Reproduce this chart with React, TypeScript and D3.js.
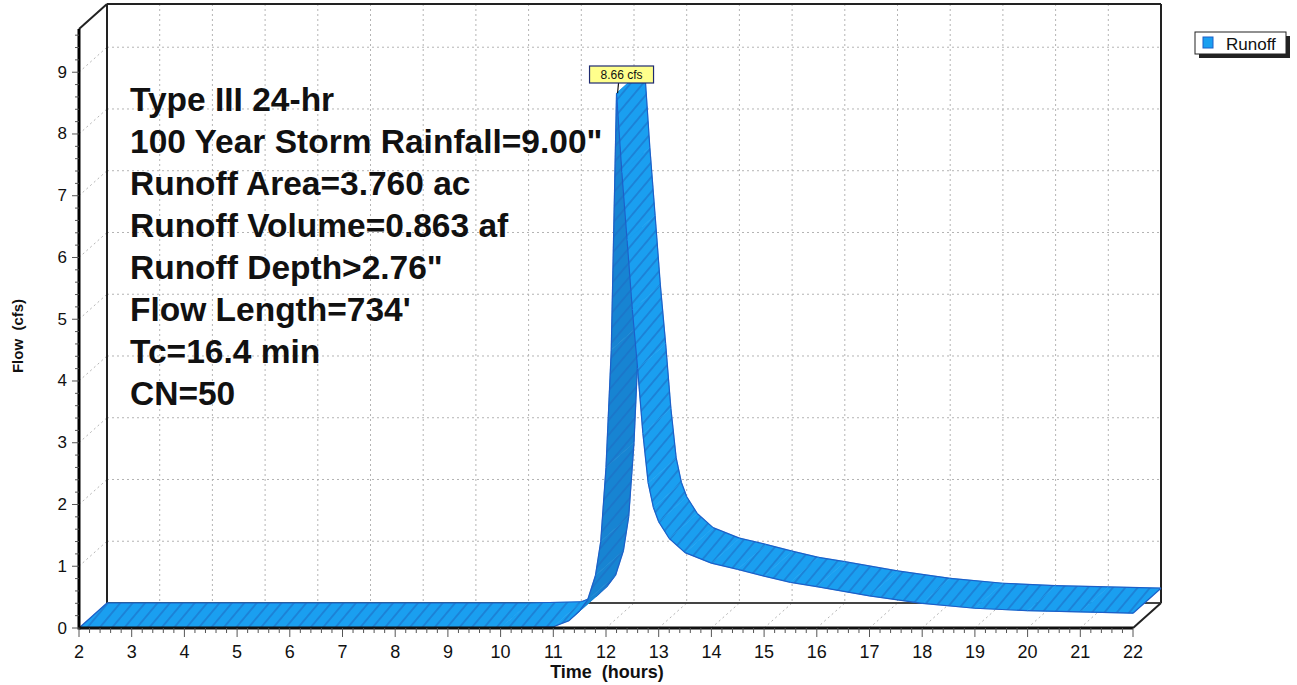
import React from 'react';
import * as d3 from 'd3';

// Runoff hydrograph (time in hours, flow in cfs)
const hours = [2, 10, 11, 11.3, 11.5, 11.65, 11.8, 11.9, 12.0, 12.1, 12.2, 12.3, 12.4, 12.5, 12.6, 12.7, 12.8, 12.9, 13.0, 13.2, 13.5, 14, 14.5, 15, 15.5, 16, 17, 18, 19, 20, 21, 22];
const flowCfs = [0, 0, 0.02, 0.12, 0.28, 0.45, 0.85, 1.4, 2.6, 4.5, 8.66, 7.38, 6.28, 5.15, 4.2, 3.15, 2.35, 1.95, 1.72, 1.45, 1.22, 1.05, 0.95, 0.84, 0.74, 0.67, 0.52, 0.4, 0.32, 0.28, 0.26, 0.24];

const xTickLabels = [2, 3, 4, 5, 6, 7, 8, 9, 10, 11, 12, 13, 14, 15, 16, 17, 18, 19, 20, 21, 22];
const yTickLabels = [0, 1, 2, 3, 4, 5, 6, 7, 8, 9];

const infoLines = [
  'Type III 24-hr',
  '100 Year Storm Rainfall=9.00"',
  'Runoff Area=3.760 ac',
  'Runoff Volume=0.863 af',
  'Runoff Depth>2.76"',
  "Flow Length=734'",
  'Tc=16.4 min',
  'CN=50',
];

const seriesName = 'Runoff';
const peakUnit = 'cfs';

const W = 1297;
const H = 685;
const FONT = "'Liberation Sans', Arial, Helvetica, sans-serif";

// oblique depth offset of the 3D box
const DX = 28;
const DY = -25;

const LIGHT = '#1a9ff0';
const DARK = '#1784d2';
const EDGE = '#1d5fc8';
const HATCH = '#1c6cc4';
const GRID = '#b4b4b4';

export default function App() {
  const x = d3.scaleLinear().domain([2, 22]).range([79, 1133]);
  const y = d3.scaleLinear().domain([0, 9.7]).range([628, 29]);

  const x0 = x(2);
  const x1 = x(22);
  const yb = y(0);
  const yt = y(9.7);
  const bx0 = x0 + DX;
  const bx1 = x1 + DX;
  const byb = yb + DY;
  const byt = yt + DY;

  const pts = hours.map((t, i) => [x(t), y(flowCfs[i])] as [number, number]);

  const quads = d3.range(pts.length - 1).map((i) => {
    const f0 = pts[i];
    const f1 = pts[i + 1];
    const b0: [number, number] = [f0[0] + DX, f0[1] + DY];
    const b1: [number, number] = [f1[0] + DX, f1[1] + DY];
    const cross = (f1[0] - f0[0]) * DY - (f1[1] - f0[1]) * DX;
    const d = `M${f0[0]},${f0[1]}L${f1[0]},${f1[1]}L${b1[0]},${b1[1]}L${b0[0]},${b0[1]}Z`;
    return { d, f0, f1, b0, b1, dark: cross > 0 };
  });

  const peakIdx = d3.maxIndex(flowCfs);
  const peakX = x(hours[peakIdx]);
  const peakY = y(flowCfs[peakIdx]);
  const peakText = `${flowCfs[peakIdx].toFixed(2)} ${peakUnit}`;

  const yMinor = d3.range(0, 9.7, 0.2);
  const xMinor = d3.range(2, 22.001, 0.2);

  return (
    <svg width={W} height={H} style={{ position: 'absolute', left: 0, top: 0, display: 'block', background: '#fff' }}>
      <defs>
        <pattern id="hatch" patternUnits="userSpaceOnUse" width={9.5} height={9.5} patternTransform="rotate(40)">
          <line x1={4.75} y1={0} x2={4.75} y2={9.5} stroke={HATCH} strokeWidth={1.1} />
        </pattern>
      </defs>

      {/* back wall grid */}
      {xTickLabels.slice(1, -1).map((t) => (
        <line key={`bv${t}`} x1={x(t) + DX} y1={byt} x2={x(t) + DX} y2={byb} stroke={GRID} strokeDasharray="2,3" />
      ))}
      {yTickLabels.slice(1).map((v) => (
        <line key={`bh${v}`} x1={bx0} y1={y(v) + DY} x2={bx1} y2={y(v) + DY} stroke={GRID} strokeDasharray="2,3" />
      ))}
      {/* side wall and floor grid */}
      {yTickLabels.slice(1).map((v) => (
        <line key={`sw${v}`} x1={x0} y1={y(v)} x2={bx0} y2={y(v) + DY} stroke={GRID} strokeDasharray="2,3" />
      ))}
      {xTickLabels.slice(1, -1).map((t) => (
        <line key={`fl${t}`} x1={x(t)} y1={yb} x2={x(t) + DX} y2={byb} stroke={GRID} strokeDasharray="2,3" />
      ))}

      {/* box frame */}
      <g stroke="#222" strokeWidth={2} fill="none">
        <line x1={bx0} y1={byt} x2={bx1} y2={byt} />
        <line x1={bx0} y1={byt} x2={bx0} y2={byb} />
        <line x1={bx1} y1={byt} x2={bx1} y2={byb} />
        <line x1={bx0} y1={byb} x2={bx1} y2={byb} stroke="#444" />
        <line x1={x0} y1={yt} x2={bx0} y2={byt} />
        <line x1={x1} y1={yb} x2={bx1} y2={byb} />
      </g>

      {/* ribbon */}
      <g>
        {quads.map((q, i) => (
          <g key={`q${i}`}>
            <path d={q.d} fill={q.dark ? DARK : LIGHT} stroke={q.dark ? DARK : LIGHT} strokeWidth={0.6} strokeLinejoin="round" />
            <path d={q.d} fill="url(#hatch)" />
            <line x1={q.f0[0]} y1={q.f0[1]} x2={q.f1[0]} y2={q.f1[1]} stroke={EDGE} strokeWidth={1.2} />
            <line x1={q.b0[0]} y1={q.b0[1]} x2={q.b1[0]} y2={q.b1[1]} stroke={EDGE} strokeWidth={1.2} />
          </g>
        ))}
        <line x1={pts[0][0]} y1={pts[0][1]} x2={pts[0][0] + DX} y2={pts[0][1] + DY} stroke={EDGE} strokeWidth={1.2} />
        <line
          x1={pts[pts.length - 1][0]}
          y1={pts[pts.length - 1][1]}
          x2={pts[pts.length - 1][0] + DX}
          y2={pts[pts.length - 1][1] + DY}
          stroke={EDGE}
          strokeWidth={1.2}
        />
      </g>

      {/* front axes */}
      <line x1={x0} y1={yt} x2={x0} y2={yb + 1.5} stroke="#000" strokeWidth={3} />
      <line x1={x0} y1={yb} x2={x1} y2={yb} stroke="#111" strokeWidth={3} />

      {/* y ticks */}
      {yMinor.map((v, i) => (
        <line key={`ym${i}`} x1={x0 - (i % 5 === 0 ? 7 : 4)} y1={y(v)} x2={x0} y2={y(v)} stroke="#555" strokeWidth={1} />
      ))}
      {yTickLabels.map((v) => (
        <text key={`yl${v}`} x={x0 - 12} y={y(v)} textAnchor="end" dominantBaseline="central" fontFamily={FONT} fontSize={17} fill="#111">
          {v}
        </text>
      ))}

      {/* x ticks */}
      {xMinor.map((t, i) => (
        <line key={`xm${i}`} x1={x(t)} y1={yb} x2={x(t)} y2={yb + (i % 5 === 0 ? 9 : 5)} stroke="#555" strokeWidth={1} />
      ))}
      {xTickLabels.map((t) => (
        <text key={`xl${t}`} x={x(t)} y={658} textAnchor="middle" fontFamily={FONT} fontSize={18} fill="#111">
          {t}
        </text>
      ))}

      {/* axis titles */}
      <text x={(x0 + x1) / 2 + 1} y={678} textAnchor="middle" fontFamily={FONT} fontSize={18} fontWeight="bold" fill="#111" style={{ whiteSpace: 'pre' }}>
        {'Time  (hours)'}
      </text>
      <text
        transform="translate(23,336) rotate(-90)"
        textAnchor="middle"
        fontFamily={FONT}
        fontSize={15}
        fontWeight="bold"
        fill="#111"
        style={{ whiteSpace: 'pre' }}
      >
        {'Flow  (cfs)'}
      </text>

      {/* storm / catchment summary */}
      {infoLines.map((s, i) => (
        <text key={`info${i}`} x={130} y={111 + i * 42} fontFamily={FONT} fontSize={33.5} fontWeight="bold" fill="#111">
          {s}
        </text>
      ))}

      {/* peak label */}
      <line x1={peakX + 2} y1={83} x2={peakX + 1} y2={peakY} stroke="#111" strokeWidth={1.2} />
      <rect x={peakX - 27} y={66} width={64} height={17} fill="#ffff8c" stroke="#1e2a70" strokeWidth={1.2} />
      <text x={peakX + 5} y={75} textAnchor="middle" dominantBaseline="central" fontFamily={FONT} fontSize={12} fill="#111">
        {peakText}
      </text>

      {/* legend */}
      <rect x={1199} y={36} width={91} height={22} fill="#222" />
      <rect x={1195} y={32} width={91} height={22} fill="#fff" stroke="#222" strokeWidth={1} />
      <rect x={1203} y={37} width={10} height={11} fill={LIGHT} stroke={EDGE} strokeWidth={1} />
      <text x={1226} y={49.5} fontFamily={FONT} fontSize={17} fill="#111">
        {seriesName}
      </text>
    </svg>
  );
}
